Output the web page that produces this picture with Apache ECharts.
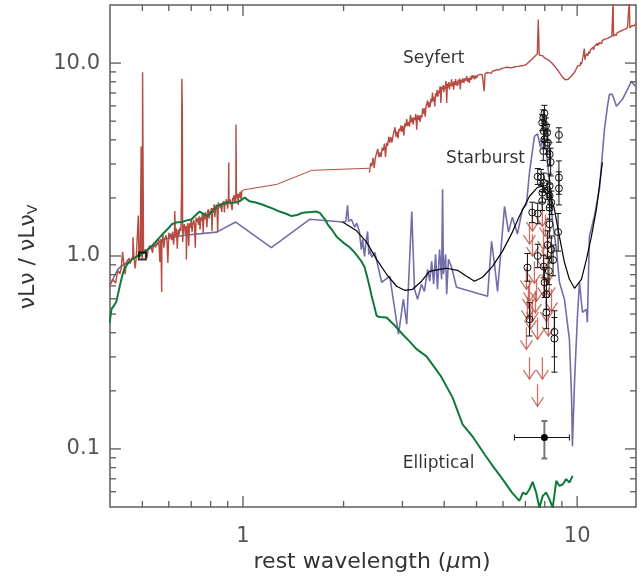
<!DOCTYPE html>
<html>
<head>
<meta charset="utf-8">
<script src="https://cdn.jsdelivr.net/npm/echarts@6/dist/echarts.min.js"></script>
<style>
  html, body { margin: 0; padding: 0; background: #fff; }
  #chart { width: 644px; height: 576px; }
</style>
</head>
<body>
<div id="chart"></div>
<script>
// Axis ranges (rest wavelength in micron, normalised nu L_nu)
const X_MIN = 0.4, X_MAX = 15;
const Y_MIN = 0.05, Y_MAX = 20;

// Tick values and labels
const xMajorTicks = [1, 10];
const xMajorLabels = ['1', '10'];
const xMinorTicks = [0.5, 0.6, 0.7, 0.8, 0.9, 2, 3, 4, 5, 6, 7, 8, 9];
const yMajorTicks = [0.1, 1, 10];
const yMajorLabels = ['0.1', '1.0', '10.0'];
const yMinorTicks = [0.06, 0.07, 0.08, 0.09, 0.2, 0.3, 0.4, 0.5, 0.6, 0.7, 0.8, 0.9, 2, 3, 4, 5, 6, 7, 8, 9];

// Seyfert template: optical spectrum with emission lines
const seyfertOptical = [
  [0.400,0.708],[0.404,0.703],[0.408,0.753],[0.412,0.755],[0.416,0.724],[0.420,0.810],[0.424,0.838],
  [0.428,0.806],[0.432,0.859],[0.436,0.862],[0.4363,1.05],[0.440,0.906],[0.444,0.806],[0.448,0.929],
  [0.452,0.915],[0.456,0.974],[0.460,0.914],[0.464,0.968],[0.468,0.994],[0.4686,1.25],[0.472,0.972],
  [0.476,0.861],[0.480,1.024],[0.484,1.000],[0.4861,1.62],[0.488,1.024],[0.492,0.987],[0.4959,3.7],
  [0.496,1.042],[0.500,0.968],[0.5007,8.95],[0.504,1.046],[0.508,1.031],[0.512,1.085],[0.516,0.974],
  [0.520,1.093],[0.524,1.070],[0.528,1.133],[0.532,1.103],[0.536,1.039],[0.540,1.144],[0.544,1.167],
  [0.548,1.109],[0.552,1.174],[0.556,1.142],[0.560,1.222],[0.564,0.931],[0.568,1.225],[0.571,0.65],
  [0.572,1.161],[0.576,1.285],[0.580,1.103],[0.584,1.228],[0.588,1.280],[0.592,1.214],[0.596,0.921],
  [0.600,1.320],[0.604,1.253],[0.608,1.307],[0.612,1.207],[0.616,1.339],[0.620,1.144],[0.624,1.324],
  [0.625,1.71],[0.628,1.269],[0.632,1.388],[0.636,1.092],[0.640,1.372],[0.644,1.283],[0.648,1.405],
  [0.652,1.348],[0.6548,2.2],[0.6563,8.3],[0.6584,5.8],[0.660,1.181],[0.664,1.421],[0.668,1.463],
  [0.672,1.303],[0.676,1.429],[0.677,0.96],[0.680,1.386],[0.684,1.479],[0.688,1.126],[0.692,1.479],
  [0.696,1.400],[0.700,1.548],[0.704,1.327],[0.708,1.476],[0.712,1.537],[0.716,1.456],[0.720,1.104],
  [0.724,1.582],[0.728,1.502],[0.732,1.567],[0.736,1.448],[0.740,1.606],[0.744,1.373],[0.748,1.589],
  [0.752,1.523],[0.756,1.666],[0.760,1.312],[0.764,1.649],[0.768,1.542],[0.772,1.689],[0.776,1.620],
  [0.780,1.412],[0.784,1.700],[0.788,1.750],[0.792,1.559],[0.796,1.710],[0.800,1.659],[0.804,1.772],
  [0.808,1.348],[0.812,1.772],[0.816,1.677],[0.820,1.855],[0.824,1.591],[0.828,1.770],[0.832,1.844],
  [0.836,1.747],[0.840,1.325],[0.844,1.895],[0.848,1.794],[0.852,1.850],[0.856,1.768],[0.860,1.879],
  [0.864,1.693],[0.868,1.869],[0.872,1.825],[0.876,1.924],[0.880,1.683],[0.884,1.914],[0.888,1.843],
  [0.892,1.971],[0.896,1.899],[0.900,1.759],[0.904,1.955],[0.9069,3.05],[0.908,1.990],[0.912,1.862],
  [0.916,1.966],[0.920,1.933],[0.924,2.009],[0.928,1.727],[0.932,2.012],[0.936,1.950],[0.940,2.070],
  [0.944,1.896],[0.948,2.058],[0.952,1.882],[0.9531,4.8],[0.956,2.046],[0.960,1.997],[0.964,2.105],
  [0.968,1.840],[0.972,2.093],[0.976,2.014],[0.980,2.153],[0.984,2.079],[0.988,1.931],[0.992,2.152],
  [0.996,2.196],[1.000,2.20]
];

// Seyfert template: unobserved gap bridged by a straight segment
const seyfertGap = [[1.0,2.20],[1.262,2.35],[1.605,2.78],[2.39,2.85]];

// Seyfert template: infrared spectrum
const seyfertInfrared = [
  [2.39,2.71],[2.41,3.03],[2.43,2.92],[2.45,3.23],[2.47,2.86],[2.49,3.23],[2.51,3.20],[2.53,3.59],
  [2.55,3.25],[2.57,3.44],[2.59,3.26],[2.61,3.64],[2.63,3.52],[2.65,3.83],[2.67,3.26],[2.69,3.85],
  [2.71,3.72],[2.73,4.16],[2.75,3.87],[2.77,4.13],[2.79,3.87],[2.81,4.17],[2.83,4.10],[2.85,4.65],
  [2.87,4.15],[2.89,4.42],[2.91,4.07],[2.93,4.56],[2.95,4.44],[2.97,4.76],[2.99,4.40],[3.01,4.72],
  [3.03,4.21],[3.05,4.87],[3.07,4.68],[3.09,5.12],[3.11,4.72],[3.13,4.96],[3.15,4.70],[3.17,5.39],
  [3.19,4.93],[3.21,5.22],[3.23,4.79],[3.25,5.23],[3.27,5.06],[3.29,5.45],[3.31,4.52],[3.33,5.36],
  [3.35,5.08],[3.37,5.36],[3.39,4.96],[3.41,5.38],[3.43,5.22],[3.45,5.83],[3.47,5.47],[3.49,5.83],
  [3.51,5.28],[3.53,5.94],[3.55,5.84],[3.57,6.40],[3.59,5.88],[3.61,6.26],[3.63,5.91],[3.65,6.55],
  [3.67,6.25],[3.69,7.04],[3.71,6.34],[3.73,6.69],[3.75,5.96],[3.77,6.97],[3.79,6.70],[3.81,7.26],
  [3.83,6.70],[3.85,7.19],[3.87,6.97],[3.89,7.60],[3.91,6.22],[3.93,7.51],[3.95,7.28],[3.97,7.69],
  [3.99,7.06],[4.01,7.62],[4.03,7.36],[4.05,8.08],[4.07,6.22],[4.09,7.83],[4.11,7.48],[4.13,7.97],
  [4.15,7.30],[4.17,7.86],[4.19,7.65],[4.21,8.23],[4.23,7.55],[4.25,7.96],[4.27,7.27],[4.29,8.08],
  [4.31,7.70],[4.33,8.27],[4.35,7.66],[4.37,8.00],[4.39,7.62],[4.41,8.20],[4.43,7.82],[4.45,8.32],
  [4.47,7.30],[4.49,8.20],[4.52,7.91],[4.55,8.34],[4.58,7.89],[4.61,8.32],[4.64,8.11],[4.67,8.55],
  [4.70,8.00],[4.73,8.36],[4.76,7.89],[4.79,8.51],[4.82,8.20],[4.85,8.65],[4.88,8.35],[4.91,8.63],
  [4.94,8.24],[4.97,8.61],[5.00,8.38],[5.04,8.66],[5.08,8.52],[5.12,8.74],[5.16,8.60],[5.20,8.71],
  [5.24,8.82],[5.27,7.15],[5.30,8.80],[5.34,8.70],[5.38,8.94],[5.42,8.78],[5.46,8.90],[5.50,9.05],
  [5.54,8.86],[5.58,9.10],[5.62,8.98],[5.66,9.12],[5.70,9.02],[5.74,9.26],[5.78,9.10],[5.82,9.20],
  [5.86,9.34],[5.90,9.15],[5.95,9.38],[6.00,9.25],[6.05,9.44],[6.10,9.30],[6.15,9.52],[6.20,9.40],
  [6.25,9.48],[6.30,9.62],[6.35,9.45],[6.40,9.60],[6.45,9.52],[6.50,9.70],[6.56,9.58],[6.62,9.74],
  [6.68,9.62],[6.74,9.80],[6.80,9.68],[6.86,9.84],[6.92,9.72],[6.98,9.90],[7.04,9.82],[7.10,9.95],
  [7.20,10.2],[7.30,10.4],[7.40,10.6],[7.50,10.9],[7.60,11.2],[7.65,16.8],[7.70,11.0],[7.80,10.8],
  [7.90,10.9],[8.00,10.6],[8.10,10.7],[8.20,10.4],[8.30,10.3],[8.40,10.0],[8.50,9.90],[8.60,9.55],
  [8.70,9.40],[8.80,9.05],[8.90,8.80],[9.00,8.55],[9.10,8.40],[9.20,8.20],[9.30,8.15],[9.40,8.25],
  [9.50,8.35],[9.60,8.55],[9.70,8.70],[9.80,8.90],[9.90,9.20],[10.00,9.40],[10.05,9.70],[10.10,9.55],
  [10.15,9.85],[10.20,9.70],[10.25,10.1],[10.30,9.85],[10.35,10.2],[10.40,10.3],[10.45,10.1],[10.51,11.9],
  [10.55,10.4],[10.60,10.9],[10.65,10.7],[10.70,11.2],[10.75,10.9],[10.80,11.1],[10.85,11.5],[10.90,11.2],
  [10.95,11.7],[11.00,11.5],[11.05,11.9],[11.10,11.6],[11.15,12.1],[11.20,11.7],[11.25,12.2],[11.30,12.0],
  [11.35,12.4],[11.40,12.1],[11.45,12.6],[11.50,12.3],[11.55,12.7],[11.60,12.4],[11.65,12.8],[11.70,12.5],
  [11.75,12.6],[11.80,13.0],[11.85,12.6],[11.90,13.1],[11.95,12.8],[12.00,13.2],[12.05,12.9],[12.10,13.3],
  [12.15,13.0],[12.20,13.5],[12.25,13.1],[12.30,13.4],[12.35,13.2],[12.40,13.7],[12.45,13.3],[12.50,13.6],
  [12.55,13.5],[12.60,13.9],[12.65,13.5],[12.70,13.8],[12.75,13.6],[12.81,21],[12.85,13.7],[12.90,14.1],
  [12.95,13.8],[13.00,14.0],[13.05,14.2],[13.10,13.9],[13.15,14.3],[13.20,14.1],[13.25,14.4],[13.30,14.2],
  [13.35,14.5],[13.40,14.3],[13.45,14.6],[13.50,14.4],[13.55,14.7],[13.60,14.5],[13.65,14.8],[13.70,14.6],
  [13.75,14.9],[13.80,14.7],[13.85,15.0],[13.90,14.8],[13.95,15.0],[14.00,14.9],[14.05,15.2],[14.10,15.0],
  [14.15,15.3],[14.20,15.1],[14.25,15.4],[14.32,21],[14.38,15.2],[14.45,15.5],[14.50,15.3],[14.55,15.6],
  [14.60,15.4],[14.65,15.7],[14.70,15.5],[14.75,15.8],[14.80,15.6],[14.85,15.9],[14.90,15.7],[14.95,16.0],
  [15.00,15.8]
];

// Starburst template
const starburstSed = [
  [0.399,0.704],[0.422,0.853],[0.433,0.888],[0.465,0.961],[0.508,1.045],[0.575,1.22],[0.669,1.28],
  [0.834,1.33],[0.951,1.50],[1.216,1.105],[1.583,1.55],[1.987,1.50],[2.03,1.51],[2.056,1.83],
  [2.07,1.51],[2.11,1.55],[2.16,1.41],[2.19,1.48],[2.23,1.34],[2.26,1.08],[2.28,1.22],[2.31,0.996],
  [2.33,1.15],[2.36,1.34],[2.38,1.02],[2.39,1.08],[2.43,0.985],[2.48,1.045],[2.60,0.731],[2.75,0.785],
  [2.92,0.393],[3.02,0.597],[3.09,0.443],[3.20,1.70],[3.26,0.672],[3.33,0.597],[3.42,0.714],
  [3.49,0.656],[3.57,0.853],[3.62,0.740],[3.67,0.939],[3.72,0.714],[3.77,1.02],[3.82,0.672],
  [3.875,1.08],[3.93,0.757],[3.956,2.22],[3.98,0.804],[4.04,1.02],[4.07,0.633],[4.12,0.961],
  [4.21,0.874],[4.356,0.688],[5.394,0.618],[5.544,1.19],[5.66,0.906],[5.778,0.656],[6.063,1.81],
  [6.23,1.33],[6.40,1.59],[6.627,1.30],[6.86,1.75],[7.05,1.85],[7.20,2.71],[7.45,4.17],[7.61,4.30],
  [7.77,3.66],[7.93,4.12],[8.09,3.57],[8.26,2.41],[8.44,1.51],[8.67,1.08],[8.85,0.731],[9.16,0.597],
  [9.48,0.370],[9.62,0.1875],[9.68,0.1033],[9.82,0.222],[10.02,0.487],[10.16,0.731],[10.37,0.511],
  [10.66,0.529],[10.73,0.453],[10.88,1.26],[11.26,1.61],[11.66,2.22],[12.07,4.53],[12.32,5.97],
  [12.49,6.88],[12.75,6.88],[13.11,5.97],[13.66,6.49],[14.54,8.04],[14.94,7.57]
];

// Elliptical template
const ellipticalSed = [
  [0.399,0.45],[0.404,0.53],[0.408,0.52],[0.413,0.56],[0.418,0.58],[0.428,0.70],[0.436,0.80],
  [0.443,0.87],[0.454,0.92],[0.465,0.96],[0.484,1.0],[0.50,1.03],[0.519,1.08],[0.535,1.13],
  [0.556,1.22],[0.58,1.32],[0.60,1.40],[0.612,1.46],[0.63,1.49],[0.655,1.50],[0.68,1.53],
  [0.702,1.55],[0.72,1.62],[0.742,1.70],[0.76,1.66],[0.784,1.61],[0.81,1.70],[0.840,1.83],
  [0.87,1.86],[0.900,1.90],[0.93,1.89],[0.964,1.90],[0.99,1.95],[1.012,2.01],[1.03,1.96],
  [1.047,1.92],[1.084,1.90],[1.13,1.86],[1.177,1.81],[1.23,1.76],[1.287,1.70],[1.34,1.66],
  [1.398,1.61],[1.45,1.63],[1.50,1.67],[1.529,1.68],[1.60,1.69],[1.661,1.70],[1.70,1.67],
  [1.720,1.64],[1.76,1.55],[1.792,1.46],[1.85,1.36],[1.906,1.26],[2.0,1.17],[2.085,1.11],
  [2.15,1.05],[2.203,0.996],[2.25,0.95],[2.280,0.928],[2.31,0.88],[2.344,0.80],[2.38,0.72],
  [2.427,0.62],[2.47,0.55],[2.511,0.490],[2.56,0.483],[2.69,0.480],[2.85,0.435],[3.003,0.393],
  [3.151,0.361],[3.30,0.33],[3.542,0.302],[3.90,0.24],[4.237,0.185],[4.40,0.155],[4.540,0.134],
  [4.864,0.116],[5.30,0.093],[5.58,0.082],[5.90,0.072],[6.40,0.059],[6.72,0.0538],[6.88,0.0594],
  [7.04,0.0582],[7.20,0.0618],[7.36,0.0675],[7.54,0.0594],[7.71,0.0495],[7.89,0.0571],[8.08,0.0594],
  [8.26,0.0549],[8.45,0.0495],[8.66,0.0683],[8.85,0.0643],[9.06,0.0656],[9.27,0.0697],[9.48,0.0670],
  [9.70,0.0725]
];

// Best-fit model
const modelSed = [
  [1.987,1.50],[2.188,1.35],[2.344,1.18],[2.511,0.961],[2.69,0.804],[2.882,0.697],[3.045,0.664],
  [3.217,0.672],[3.423,0.740],[3.616,0.833],[3.875,0.853],[4.066,0.864],[4.386,0.843],[4.667,0.785],
  [4.931,0.740],[5.211,0.776],[5.582,0.884],[5.98,1.06],[6.40,1.33],[6.72,1.61],[7.20,2.04],
  [7.61,2.27],[7.87,2.30],[8.26,2.14],[8.55,1.75],[8.85,1.26],[9.16,0.928],[9.48,0.757],
  [9.82,0.680],[9.95,0.672],[10.30,0.757],[10.66,0.961],[11.03,1.26],[11.42,1.75],[11.90,3.06]
];

// Detections: wavelength, value, error-bar bounds
const obsWave  = [7.98,7.92,7.86,8.06,7.94,8.13,7.98,8.17,8.82,7.92,8.27,8.33,7.62,7.80,8.82,7.94,8.27,8.82,8.16,7.87,8.27,8.37,8.27,7.34,7.62,7.86,8.27,8.77,8.16,8.37,8.47,7.10,7.62,7.94,8.23,7.99,8.09,7.20,8.09,8.55,8.55];
const obsValue = [5.49,5.21,4.91,4.72,4.44,4.36,4.02,3.87,4.24,3.50,3.37,3.07,2.58,2.55,2.55,2.40,2.31,2.24,2.19,2.13,2.05,1.89,1.78,1.68,1.66,1.93,1.46,1.33,1.14,1.08,0.953,0.871,1.00,0.881,0.836,0.728,0.633,0.470,0.509,0.404,0.373];
const obsLow   = [4.99,4.74,4.46,4.29,4.04,3.96,3.59,3.37,3.89,3.13,2.93,2.60,2.35,2.32,2.09,2.14,2.01,1.84,1.96,1.90,1.78,1.64,1.55,1.49,1.47,1.72,1.24,1.06,0.97,0.92,0.79,0.74,0.87,0.77,0.71,0.61,0.53,0.385,0.42,0.30,0.25];
const obsHigh  = [6.04,5.73,5.40,5.19,4.88,4.80,4.50,4.45,4.62,3.92,3.88,3.62,2.84,2.81,3.11,2.69,2.66,2.73,2.45,2.39,2.36,2.17,2.05,1.90,1.88,2.16,1.72,1.66,1.35,1.27,1.14,1.03,1.15,1.01,0.99,0.87,0.76,0.573,0.61,0.52,0.48];

// Upper limits
const limitWave  = [7.05,7.20,7.10,7.25,7.05,7.45,7.56,7.35,7.61,7.87,8.04,7.93,8.15,8.26,8.38,7.20,7.87,7.61,7.35,8.09,7.20,7.35,7.93,8.15,7.15,7.50,7.95,8.20];
const limitValue = [0.874,0.757,0.611,0.542,0.427,0.939,0.757,0.597,0.481,1.85,1.64,1.11,0.939,0.804,0.672,0.299,0.299,0.2164,1.75,0.597,1.50,1.30,1.40,1.25,0.70,0.66,0.80,0.50];

// Stacked (mean) point with wavelength and value ranges
const stackWave = [7.98], stackValue = [0.1146];
const stackWaveLow = [6.49], stackWaveHigh = [9.48];
const stackLow = [0.0892], stackHigh = [0.1396];

// Normalisation point
const normPoint = [[0.5, 1.0]];

// Template names and where they are written
const templateNames = ['Seyfert', 'Starburst', 'Elliptical'];
const templateNameAt = [[3.72, 10.5], [5.32, 3.2], [3.85, 0.084]];

const RED = '#b64b41', BLUE = '#726eab', GREEN = '#11793a';
const FONT = '"DejaVu Sans", sans-serif';
const AXIS_GREY = '#5c5c5c';

function tickLabel(ticks, labels, v) {
  for (let i = 0; i < ticks.length; i++) {
    if (Math.abs(Math.log10(v / ticks[i])) < 1e-4) return labels[i];
  }
  return '';
}

const tickData = [];
xMinorTicks.forEach(v => tickData.push([v, Y_MIN, 0]));
xMajorTicks.forEach(v => tickData.push([v, Y_MIN, 1]));
yMinorTicks.forEach(v => tickData.push([X_MIN, v, 2]));
yMajorTicks.forEach(v => tickData.push([X_MIN, v, 3]));

const obsData = obsWave.map((w, i) => [w, obsValue[i], obsLow[i], obsHigh[i]]);
const limitData = limitWave.map((w, i) => [w, limitValue[i]]);
const stackData = stackWave.map((w, i) => [w, stackValue[i], stackWaveLow[i], stackWaveHigh[i], stackLow[i], stackHigh[i]]);
const nameData = templateNameAt.map((p, i) => ({ value: p, name: templateNames[i] }));

// Short tick marks on all four sides of the frame
function renderTicks(params, api) {
  const kind = api.value(2);
  const MINOR = 6, MAJOR = 11;
  const st = { stroke: AXIS_GREY, lineWidth: 1.3 };
  if (kind <= 1) {
    const v = api.value(0);
    const b = api.coord([v, Y_MIN]), t = api.coord([v, Y_MAX]);
    const len = kind === 1 ? MAJOR : MINOR;
    return { type: 'group', children: [
      { type: 'line', shape: { x1: b[0], y1: b[1], x2: b[0], y2: b[1] - len }, style: st },
      { type: 'line', shape: { x1: t[0], y1: t[1], x2: t[0], y2: t[1] + len }, style: st }
    ]};
  }
  const v = api.value(1);
  const l = api.coord([X_MIN, v]), r = api.coord([X_MAX, v]);
  const len = kind === 3 ? MAJOR : MINOR;
  return { type: 'group', children: [
    { type: 'line', shape: { x1: l[0], y1: l[1], x2: l[0] + len, y2: l[1] }, style: st },
    { type: 'line', shape: { x1: r[0], y1: r[1], x2: r[0] - len, y2: r[1] }, style: st }
  ]};
}

// Open circle with vertical error bar
function renderObs(params, api) {
  const w = api.value(0);
  const c = api.coord([w, api.value(1)]);
  const lo = api.coord([w, api.value(2)]);
  const hi = api.coord([w, api.value(3)]);
  const cap = 3;
  const st = { stroke: '#111', lineWidth: 1 };
  return { type: 'group', children: [
    { type: 'line', shape: { x1: c[0], y1: lo[1], x2: c[0], y2: hi[1] }, style: st },
    { type: 'line', shape: { x1: c[0] - cap, y1: lo[1], x2: c[0] + cap, y2: lo[1] }, style: st },
    { type: 'line', shape: { x1: c[0] - cap, y1: hi[1], x2: c[0] + cap, y2: hi[1] }, style: st },
    { type: 'circle', shape: { cx: c[0], cy: c[1], r: 3.5 }, style: { fill: 'rgba(255,255,255,0)', stroke: '#111', lineWidth: 1 } }
  ]};
}

// Downward arrow from an upper limit
function renderLimit(params, api) {
  const c = api.coord([api.value(0), api.value(1)]);
  const tip = c[1] + 22;
  const st = { stroke: 'rgba(190,80,68,0.8)', lineWidth: 1.3, fill: null };
  return { type: 'group', children: [
    { type: 'line', shape: { x1: c[0], y1: c[1], x2: c[0], y2: tip }, style: st },
    { type: 'polyline', shape: { points: [[c[0] - 6, tip - 9], [c[0], tip], [c[0] + 6, tip - 9]] }, style: st }
  ]};
}

// Filled point with wavelength range and value error
function renderStack(params, api) {
  const v = api.value(1);
  const c = api.coord([api.value(0), v]);
  const xl = api.coord([api.value(2), v]), xh = api.coord([api.value(3), v]);
  const yl = api.coord([api.value(0), api.value(4)]), yh = api.coord([api.value(0), api.value(5)]);
  const cap = 3;
  const hs = { stroke: '#111', lineWidth: 1 };
  const vs = { stroke: '#777', lineWidth: 2 };
  return { type: 'group', children: [
    { type: 'line', shape: { x1: xl[0], y1: c[1], x2: xh[0], y2: c[1] }, style: hs },
    { type: 'line', shape: { x1: xl[0], y1: c[1] - cap, x2: xl[0], y2: c[1] + cap }, style: hs },
    { type: 'line', shape: { x1: xh[0], y1: c[1] - cap, x2: xh[0], y2: c[1] + cap }, style: hs },
    { type: 'line', shape: { x1: c[0], y1: yl[1], x2: c[0], y2: yh[1] }, style: vs },
    { type: 'line', shape: { x1: c[0] - cap, y1: yl[1], x2: c[0] + cap, y2: yl[1] }, style: vs },
    { type: 'line', shape: { x1: c[0] - cap, y1: yh[1], x2: c[0] + cap, y2: yh[1] }, style: vs },
    { type: 'circle', shape: { cx: c[0], cy: c[1], r: 3.5 }, style: { fill: '#000' } }
  ]};
}

const chart = echarts.init(document.getElementById('chart'), null, { renderer: 'canvas' });

chart.setOption({
  animation: false,
  backgroundColor: '#fff',
  grid: { left: 110, right: 8, top: 5, bottom: 69, show: true, borderColor: AXIS_GREY, borderWidth: 1.5, backgroundColor: 'transparent' },
  xAxis: {
    type: 'log', logBase: 10, min: X_MIN, max: X_MAX,
    axisLine: { show: false }, axisTick: { show: false }, splitLine: { show: false },
    axisLabel: {
      margin: 19, fontSize: 21, color: '#555', fontFamily: FONT,
      showMinLabel: false, showMaxLabel: false,
      formatter: v => tickLabel(xMajorTicks, xMajorLabels, v)
    }
  },
  yAxis: {
    type: 'log', logBase: 10, min: Y_MIN, max: Y_MAX,
    axisLine: { show: false }, axisTick: { show: false }, splitLine: { show: false },
    axisLabel: {
      margin: 10, fontSize: 21, color: '#555', fontFamily: FONT,
      showMinLabel: false, showMaxLabel: false,
      formatter: v => tickLabel(yMajorTicks, yMajorLabels, v)
    }
  },
  graphic: [
    {
      type: 'text', x: 372, y: 562,
      style: {
        text: 'rest wavelength ({i|μ}m)', align: 'center', verticalAlign: 'middle',
        fontSize: 22, fontFamily: FONT, fill: '#333',
        rich: { i: { fontSize: 22, fontFamily: FONT, fontStyle: 'italic', fill: '#333' } }
      }
    },
    {
      type: 'text', x: 28, y: 257, rotation: Math.PI / 2,
      style: {
        text: 'νLν / νLν{s|V}', align: 'center', verticalAlign: 'middle',
        fontSize: 22, fontFamily: FONT, fill: '#333',
        rich: { s: { fontSize: 14, fontFamily: FONT, fill: '#333', padding: [10, 0, 0, 0] } }
      }
    }
  ],
  series: [
    { type: 'line', name: 'Starburst', data: starburstSed, showSymbol: false, symbol: 'none',
      lineStyle: { color: BLUE, width: 1.6 }, z: 2 },
    { type: 'line', name: 'Seyfert optical', data: seyfertOptical, showSymbol: false, symbol: 'none',
      lineStyle: { color: RED, width: 1.4 }, z: 3 },
    { type: 'line', name: 'Seyfert gap', data: seyfertGap, showSymbol: false, symbol: 'none',
      lineStyle: { color: RED, width: 1 }, z: 3 },
    { type: 'line', name: 'Seyfert infrared', data: seyfertInfrared, showSymbol: false, symbol: 'none',
      lineStyle: { color: RED, width: 1.4 }, z: 3 },
    { type: 'line', name: 'Elliptical', data: ellipticalSed, showSymbol: false, symbol: 'none',
      lineStyle: { color: GREEN, width: 2 }, z: 4 },
    { type: 'line', name: 'Model', data: modelSed, showSymbol: false, symbol: 'none',
      lineStyle: { color: '#000', width: 1.2 }, z: 5 },
    { type: 'custom', name: 'Upper limits', data: limitData, renderItem: renderLimit, encode: { x: 0, y: 1 }, z: 6 },
    { type: 'custom', name: 'Detections', data: obsData, renderItem: renderObs, encode: { x: 0, y: 1 }, z: 7 },
    { type: 'custom', name: 'Stack', data: stackData, renderItem: renderStack, encode: { x: 0, y: 1 }, z: 7 },
    { type: 'scatter', name: 'Normalisation', data: normPoint, symbol: 'rect', symbolSize: 7,
      itemStyle: { color: 'rgba(0,0,0,0)', borderColor: '#000', borderWidth: 2 }, z: 8 },
    { type: 'scatter', name: 'Template names', data: nameData, symbolSize: 0.001,
      itemStyle: { color: 'rgba(0,0,0,0)' },
      label: { show: true, position: 'inside', formatter: p => p.name,
               fontSize: 17, fontFamily: FONT, color: '#000' }, z: 9 },
    { type: 'custom', name: 'Ticks', data: tickData, renderItem: renderTicks, encode: { x: 0, y: 1 }, z: 10, silent: true }
  ]
});
</script>
</body>
</html>
